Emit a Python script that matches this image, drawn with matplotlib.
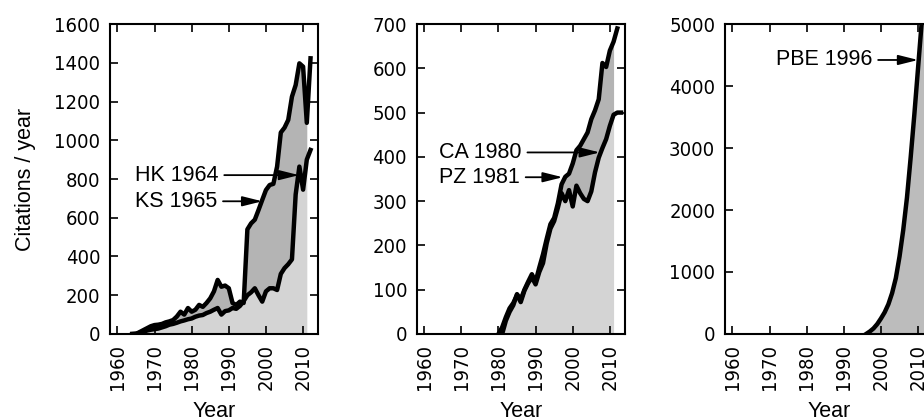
import matplotlib
matplotlib.use("Agg")
import matplotlib.pyplot as plt
import numpy as np

# --- Data (citations per year) ---
years_hk_ks = np.arange(1964, 2013)
hk_1964 = [0, 2, 6, 10, 18, 22, 25, 28, 34, 40, 48, 52, 58, 65, 70, 76, 80, 89, 95, 98,
           108, 115, 125, 134, 100, 118, 122, 134, 130, 145, 170, 200, 215, 236, 200, 167,
           220, 236, 236, 227, 310, 340, 360, 385, 720, 864, 745, 900, 950]
ks_1965 = [0, 0, 10, 20, 30, 40, 46, 48, 52, 60, 65, 72, 90, 115, 100, 134, 115, 125, 150, 140,
           160, 184, 220, 279, 244, 250, 236, 160, 150, 167, 160, 540, 571, 590, 640, 692,
           743, 769, 775, 864, 1040, 1065, 1105, 1225, 1285, 1397, 1380, 1090, 1423]

years_ca = np.arange(1980, 2014)
ca_1980 = [0, 15, 38, 58, 70, 88, 72, 98, 115, 128, 112, 140, 160, 205, 238, 255, 285, 318,
           300, 325, 288, 335, 318, 305, 300, 322, 365, 398, 420, 440, 470, 495, 500, 500]
years_pz = np.arange(1981, 2013)
pz_1981 = [0, 30, 50, 65, 90, 78, 100, 118, 135, 118, 150, 180, 215, 248, 262, 295, 338, 355,
           362, 385, 415, 425, 440, 455, 485, 505, 530, 612, 603, 640, 660, 690]

years_pbe = np.arange(1996, 2013)
pbe_1996 = [0, 40, 90, 160, 250, 350, 480, 660, 900, 1250, 1680, 2200, 2850, 3550, 4300,
            5050, 5700]

fill_end = 2011  # shading in the source stops here
dark_grey = "#b4b4b4"
light_grey = "#d4d4d4"

tick_font = dict(family="DejaVu Sans", stretch="condensed", size=14.5)
text_font = dict(family="Liberation Sans", size=15.5)

fig = plt.figure(figsize=(9.24, 4.2), dpi=100)
panel_w, bottom, height = 0.2251, 0.2048, 0.738
axes = [fig.add_axes([left, bottom, panel_w, height]) for left in (0.119, 0.451, 0.7846)]


def style(ax, ymax, ystep):
    ax.set_xlim(1958, 2014)
    ax.set_ylim(0, ymax)
    xt = list(range(1960, 2011, 10))
    ax.set_xticks(xt)
    ax.set_xticklabels([str(t) for t in xt], rotation=90, fontdict=tick_font)
    yt = list(range(0, ymax + 1, ystep))
    ax.set_yticks(yt)
    ax.set_yticklabels([str(t) for t in yt], fontdict=tick_font)
    ax.tick_params(direction="in", length=6, width=1.2, top=True, right=True, pad=7)
    for sp in ax.spines.values():
        sp.set_linewidth(1.5)
    ax.set_xlabel("Year", fontdict=text_font, labelpad=8)


def two_curves(ax, x_a, a, x_b, b):
    # common grid for shading
    x = np.union1d(x_a, x_b)
    ya = np.interp(x, x_a, a, left=0)
    yb = np.interp(x, x_b, b, left=0)
    m = x <= fill_end
    lo = np.minimum(ya, yb)
    hi = np.maximum(ya, yb)
    ax.fill_between(x[m], 0, lo[m], color=light_grey, lw=0, zorder=1)
    ax.fill_between(x[m], lo[m], hi[m], color=dark_grey, lw=0, zorder=1)
    ax.plot(x_a, a, color="k", lw=3.2, zorder=3)
    ax.plot(x_b, b, color="k", lw=3.2, zorder=3)


def label(ax, text, xytext, xy):
    ax.annotate(text, xy=xy, xytext=xytext, ha="left", va="center", fontsize=15.5,
                family="Liberation Sans", zorder=5,
                arrowprops=dict(arrowstyle="-|>,head_length=0.8,head_width=0.2",
                                color="k", lw=1.3, mutation_scale=15,
                                shrinkA=2, shrinkB=0, relpos=(1, 0.5)))


# Panel 1: HK and KS
ax = axes[0]
two_curves(ax, years_hk_ks, hk_1964, years_hk_ks, ks_1965)
style(ax, 1600, 200)
ax.set_ylabel("Citations / year", fontdict=text_font, labelpad=13)
label(ax, "HK 1964", (1964.8, 820), (2008.9, 820))
label(ax, "KS 1965", (1964.8, 685), (1999.0, 685))

# Panel 2: CA and PZ
ax = axes[1]
two_curves(ax, years_ca, ca_1980, years_pz, pz_1981)
style(ax, 700, 100)
label(ax, "CA 1980", (1964.1, 410), (2007.3, 410))
label(ax, "PZ 1981", (1964.1, 354), (1997.3, 354))

# Panel 3: PBE
ax = axes[2]
ax.fill_between(years_pbe, 0, pbe_1996, color="#bcbcbc", lw=0, zorder=1)
ax.plot(years_pbe, pbe_1996, color="k", lw=3.2, zorder=3)
style(ax, 5000, 1000)
label(ax, "PBE 1996", (1971.8, 4420), (2010.0, 4420))

fig.savefig("out.png", dpi=100)
